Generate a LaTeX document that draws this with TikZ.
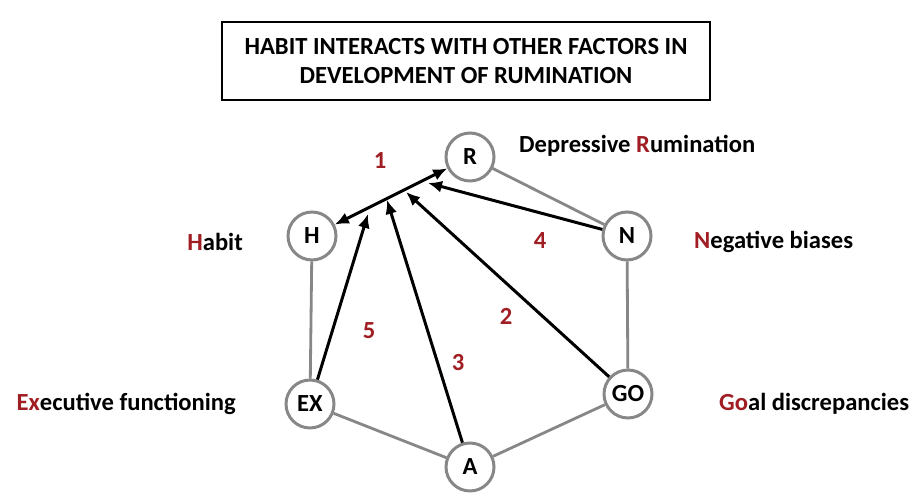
\documentclass[tikz,border=0pt]{standalone}
\usepackage{fontspec}
\setmainfont{Carlito}
\usepackage{tikz}
\usetikzlibrary{arrows.meta,positioning}
\usepackage{xcolor}
\definecolor{rumred}{RGB}{160,30,35}
\definecolor{linegray}{RGB}{135,135,135}

\tikzset{
  factor/.style={circle,draw=linegray,line width=1.7pt,fill=white,minimum size=0.96cm,inner sep=0pt,font=\fontsize{14}{16}\selectfont\bfseries},
  link/.style={draw=linegray,line width=1.6pt},
  effect/.style={-{Latex[length=2.8mm,width=2.4mm]},line width=1.7pt},
  factorlabel/.style={font=\fontsize{14}{16}\selectfont\bfseries},
  numlabel/.style={text=rumred,font=\fontsize{14}{16}\selectfont\bfseries}
}

\begin{document}
\begin{tikzpicture}[x=0.02cm,y=-0.02cm]
    \useasboundingbox (0,0) rectangle (916,502);

    \node[draw,line width=1.6pt,minimum width=9.76cm,minimum height=1.56cm,align=center,
      font=\fontsize{14}{17}\selectfont\bfseries] (title) at (466,61)
      {HABIT INTERACTS WITH OTHER FACTORS IN\\DEVELOPMENT OF RUMINATION};

    % the six factors
    \node[factor] (r) at (470,157) {R};
    \node[factor] (h) at (312,236) {H};
    \node[factor] (n) at (627,236) {N};
    \node[factor] (ex) at (310,404) {EX};
    \node[factor] (go) at (628,394) {GO};
    \node[factor] (a) at (470,467) {A};

    \draw[link] (r) -- (n) (n) -- (go) (go) -- (a) (a) -- (ex) (ex) -- (h);

    \node[factorlabel,anchor=west] (rlab) at (513,146) {Depressive {\color{rumred}R}umination};
    \node[factorlabel,anchor=east] (hlab) at (249,242) {{\color{rumred}H}abit};
    \node[factorlabel,anchor=west] (nlab) at (688,242) {{\color{rumred}N}egative biases};
    \node[factorlabel,anchor=east] (exlab) at (242,404) {{\color{rumred}Ex}ecutive functioning};
    \node[factorlabel,anchor=west] (golab) at (713,404) {{\color{rumred}Go}al discrepancies};

    % arrows onto the habit link
    \coordinate (p5) at (368,214);
    \coordinate (p3) at (387,200);
    \coordinate (p2) at (406,192);
    \coordinate (p4) at (428,183);

    \draw[effect,{Latex[length=2.8mm,width=2.4mm]}-{Latex[length=2.8mm,width=2.4mm]}] (h) -- (r);
    \draw[effect] (ex) -- (p5);
    \draw[effect] (a) -- (p3);
    \draw[effect] (go) -- (p2);
    \draw[effect] (n) -- (p4);

    \node[numlabel] (one) at (380,161) {1};
    \node[numlabel] (four) at (540,241) {4};
    \node[numlabel] (two) at (506,316) {2};
    \node[numlabel] (five) at (369,331) {5};
    \node[numlabel] (three) at (458,363) {3};
\end{tikzpicture}
\end{document}
